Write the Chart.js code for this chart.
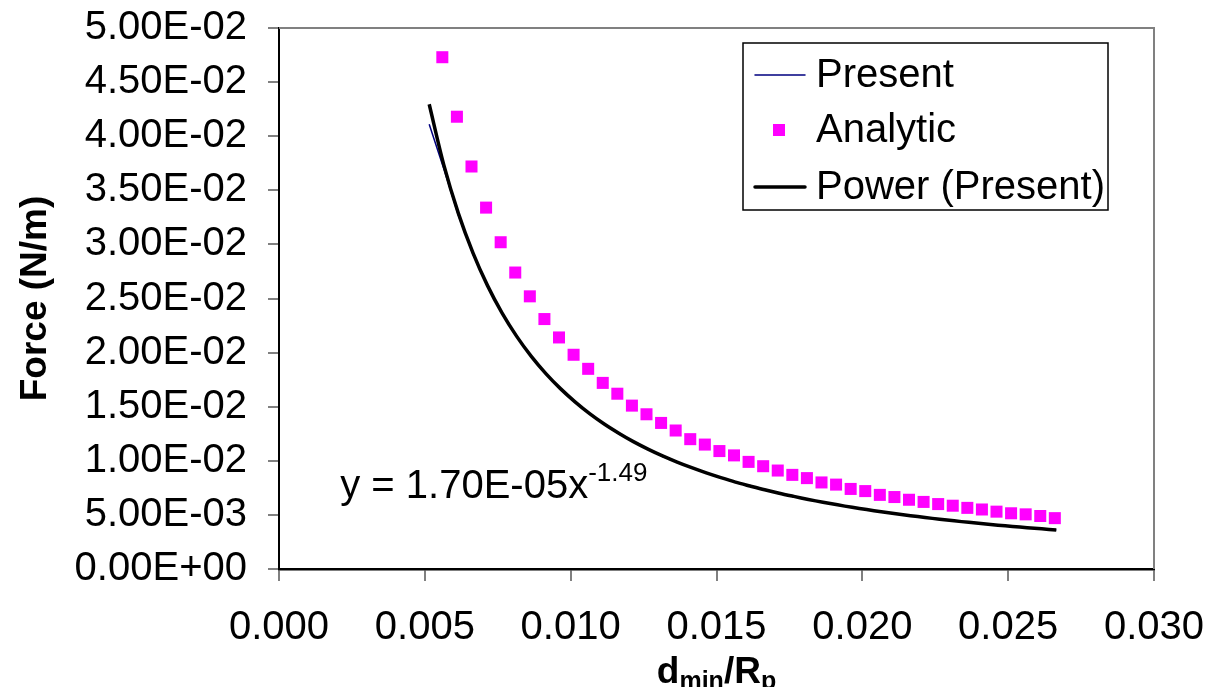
<!DOCTYPE html>
<html>
<head>
<meta charset="utf-8">
<script src="https://cdn.jsdelivr.net/npm/chart.js@4.4.1/dist/chart.umd.min.js"></script>
<style>
  html, body { margin: 0; padding: 0; background: #ffffff; }
  #wrap { width: 1207px; height: 687px; }
</style>
</head>
<body>
<div id="wrap"><canvas id="c" width="1207" height="687"></canvas></div>
<script>
// ---- data ----
const presentX = [0.00515,0.00565,0.00615,0.00665,0.00715,0.00765,0.00815,0.00865,0.00915,0.00965,
  0.01015,0.01065,0.01115,0.01165,0.01215,0.01265,0.01315,0.01365,0.01415,0.01465,
  0.01515,0.01565,0.01615,0.01665,0.01715,0.01765,0.01815,0.01865,0.01915,0.01965,
  0.02015,0.02065,0.02115,0.02165,0.02215,0.02265,0.02315,0.02365,0.02415,0.02465,
  0.02515,0.02565,0.02615,0.02665];
const presentY = [0.0411,0.0370,0.0327,0.0291,0.0262,0.0236,0.0215,0.0197,0.0180,0.0167,
  0.0154,0.0144,0.0134,0.0125,0.0118,0.0111,0.0104,0.0099,0.00935,0.0089,
  0.00842,0.00805,0.00765,0.00733,0.00698,0.00672,0.00642,0.00618,0.00592,0.00571,
  0.00548,0.00530,0.00509,0.00494,0.00475,0.00461,0.00444,0.00432,0.00417,0.00406,
  0.00392,0.00383,0.00370,0.00361];
const powerY = [0.04295,0.03735,0.03287,0.02922,0.02619,0.02365,0.02150,0.01965,0.01806,0.01667,
  0.01545,0.01436,0.01340,0.01255,0.01177,0.01108,0.01045,0.00988,0.00936,0.00888,
  0.00844,0.00803,0.00767,0.00732,0.00700,0.00671,0.00643,0.00617,0.00593,0.00570,
  0.00549,0.00529,0.00510,0.00493,0.00476,0.00460,0.00445,0.00431,0.00418,0.00405,
  0.00393,0.00382,0.00371,0.00360];
const analyticX = [0.0056,0.0061,0.0066,0.0071,0.0076,0.0081,0.0086,0.0091,0.0096,0.0101,
  0.0106,0.0111,0.0116,0.0121,0.0126,0.0131,0.0136,0.0141,0.0146,0.0151,
  0.0156,0.0161,0.0166,0.0171,0.0176,0.0181,0.0186,0.0191,0.0196,0.0201,
  0.0206,0.0211,0.0216,0.0221,0.0226,0.0231,0.0236,0.0241,0.0246,0.0251,
  0.0256,0.0261,0.0266];
const analyticY = [0.0473,0.0418,0.0372,0.0334,0.0302,0.0274,0.0252,0.0231,0.0214,0.0198,
  0.0185,0.0172,0.0162,0.0151,0.0143,0.0135,0.0128,0.0120,0.0115,0.0109,
  0.0105,0.0099,0.0095,0.0091,0.0087,0.0084,0.0080,0.0078,0.0074,0.0072,
  0.00685,0.00665,0.0064,0.0062,0.0060,0.00585,0.00565,0.0055,0.0053,0.00515,
  0.00505,0.0049,0.0047];
const seriesLabels = ['Present', 'Analytic', 'Power (Present)'];
const xAxisMin = 0, xAxisMax = 0.03, xStep = 0.005;
const yAxisMin = 0, yAxisMax = 0.05, yStep = 0.005;
const yTitle = 'Force (N/m)';
const xTitleParts = [['d', false], ['min', true], ['/R', false], ['p', true]];
const equationMain = 'y = 1.70E-05x';
const equationSup = '-1.49';
const equationAt = [0.0021, 0.0066];

// ---- helpers ----
const FONT = '"Liberation Sans", Arial, Helvetica, sans-serif';
function pts(xs, ys) { return xs.map((x, i) => ({ x: x, y: ys[i] })); }
function sci(v) {
  if (Math.abs(v) < 1e-12) return '0.00E+00';
  const e = Math.floor(Math.log10(Math.abs(v)) + 1e-9);
  const m = v / Math.pow(10, e);
  return m.toFixed(2) + 'E' + (e < 0 ? '-' : '+') + String(Math.abs(e)).padStart(2, '0');
}

const decor = {
  id: 'decor',
  afterDraw(chart) {
    const { ctx, chartArea: a, scales } = chart;
    const xs = scales.x, ys = scales.y;
    ctx.save();
    // grey frame on top and right
    ctx.strokeStyle = '#808080';
    ctx.lineWidth = 2;
    ctx.beginPath();
    ctx.moveTo(a.left, a.top);
    ctx.lineTo(a.right, a.top);
    ctx.lineTo(a.right, a.bottom);
    ctx.stroke();

    // equation of the trend line
    ctx.fillStyle = '#000';
    ctx.textBaseline = 'alphabetic';
    ctx.textAlign = 'left';
    ctx.font = '40px ' + FONT;
    const ex = xs.getPixelForValue(equationAt[0]);
    const ey = ys.getPixelForValue(equationAt[1]);
    ctx.fillText(equationMain, ex, ey);
    const w = ctx.measureText(equationMain).width;
    ctx.font = '26px ' + FONT;
    ctx.fillText(equationSup, ex + w, ey - 17);

    // x axis title with subscripts
    const big = 'bold 37px ' + FONT, small = 'bold 25px ' + FONT;
    let total = 0;
    xTitleParts.forEach(([t, sub]) => { ctx.font = sub ? small : big; total += ctx.measureText(t).width; });
    let tx = (a.left + a.right) / 2 - total / 2;
    const base = 683;
    xTitleParts.forEach(([t, sub]) => {
      ctx.font = sub ? small : big;
      ctx.fillText(t, tx, sub ? base + 6 : base);
      tx += ctx.measureText(t).width;
    });

    // legend box
    const lx = a.right - 411, ly = a.top + 15, lw = 365, lh = 167;
    ctx.fillStyle = '#fff';
    ctx.fillRect(lx, ly, lw, lh);
    ctx.strokeStyle = '#000';
    ctx.lineWidth = 1.5;
    ctx.strokeRect(lx, ly, lw, lh);
    const ds = chart.data.datasets;
    const rows = [ds[0], ds[1], ds[2]];
    const rowY = [ly + 32, ly + 87, ly + 144];
    rows.forEach((d, i) => {
      const cy = rowY[i];
      if (d.showLine === false) {
        ctx.fillStyle = d.backgroundColor;
        ctx.fillRect(lx + 30, cy - 6, 12, 12);
      } else {
        ctx.strokeStyle = d.borderColor;
        ctx.lineWidth = d.borderWidth;
        ctx.lineCap = 'round';
        ctx.beginPath();
        ctx.moveTo(lx + 12, cy);
        ctx.lineTo(lx + 62, cy);
        ctx.stroke();
      }
      ctx.fillStyle = '#000';
      ctx.font = '40px ' + FONT;
      ctx.textBaseline = 'middle';
      ctx.fillText(d.label, lx + 73, cy + 1);
    });
    ctx.restore();
  }
};

new Chart(document.getElementById('c'), {
  type: 'scatter',
  data: {
    datasets: [
      {
        label: seriesLabels[0],
        data: pts(presentX, presentY),
        showLine: true,
        borderColor: '#000080',
        backgroundColor: '#000080',
        borderWidth: 1.5,
        pointRadius: 0,
        order: 2
      },
      {
        label: seriesLabels[1],
        data: pts(analyticX, analyticY),
        showLine: false,
        pointStyle: 'rect',
        pointRadius: 8.5,
        pointBorderWidth: 0,
        borderWidth: 0,
        backgroundColor: '#FF00FF',
        borderColor: '#FF00FF',
        order: 1
      },
      {
        label: seriesLabels[2],
        data: pts(presentX, powerY),
        showLine: true,
        borderColor: '#000000',
        backgroundColor: '#000000',
        borderWidth: 3.5,
        pointRadius: 0,
        tension: 0.3,
        order: 0
      }
    ]
  },
  options: {
    responsive: false,
    animation: false,
    devicePixelRatio: 1,
    layout: { padding: { left: 0, right: 53, top: 28, bottom: 0 } },
    plugins: { legend: { display: false }, tooltip: { enabled: false } },
    scales: {
      x: {
        type: 'linear',
        position: 'bottom',
        min: xAxisMin, max: xAxisMax,
        afterFit(s) { s.height = 118; s.paddingLeft = 0; s.paddingRight = 0; },
        ticks: {
          stepSize: xStep,
          color: '#000',
          font: { family: FONT, size: 40 },
          padding: 23,
          maxRotation: 0,
          callback: v => v.toFixed(3)
        },
        grid: { drawOnChartArea: false, drawTicks: true, tickLength: 12, color: '#808080', lineWidth: 2 },
        border: { display: true, color: '#000', width: 2.5 }
      },
      y: {
        type: 'linear',
        position: 'left',
        min: yAxisMin, max: yAxisMax,
        afterFit(s) { s.width = 279; s.paddingTop = 0; s.paddingBottom = 0; },
        ticks: {
          stepSize: yStep,
          color: '#000',
          font: { family: FONT, size: 40 },
          padding: 21,
          callback: v => sci(v)
        },
        grid: { drawOnChartArea: false, drawTicks: true, tickLength: 11, color: '#808080', lineWidth: 2 },
        border: { display: true, color: '#000', width: 2 },
        title: {
          display: true,
          text: yTitle,
          color: '#000',
          font: { family: FONT, size: 37, weight: 'bold' },
          padding: { top: 14, bottom: 0 }
        }
      }
    }
  },
  plugins: [decor]
});
</script>
</body>
</html>
